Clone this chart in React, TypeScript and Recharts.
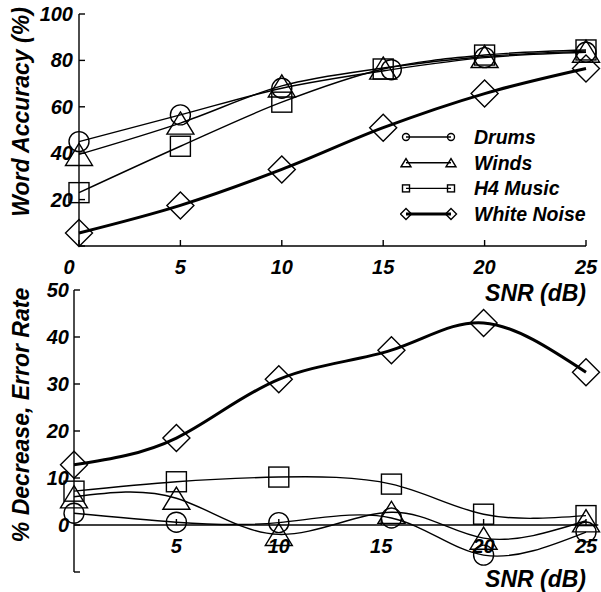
import { LineChart, Line, XAxis, YAxis, ReferenceLine, ReferenceDot, Legend, Label } from 'recharts'

// SNR values (dB); a few markers sit slightly right of the 15 dB tick
const SNR = [0, 5, 10, 15, 20, 25]
const SNR_DRUMS_TOP = [0, 5, 10, 15.4, 20, 25]
const SNR_BOTTOM = [0, 5, 10, 15.5, 20, 25]

// word accuracy (%)
const ACC_DRUMS = [45, 56.5, 68, 76, 81.2, 83.5]
const ACC_WINDS = [39.5, 53, 69, 76.7, 81.7, 84]
const ACC_H4 = [23, 43, 62, 76.3, 82.3, 84.5]
const ACC_WHITE = [5.6, 17.5, 33, 51, 65.7, 76.5]

// % decrease, error rate
const DEC_DRUMS = [2.5, 0.6, 0.5, 1.5, -6.4, -1.5]
const DEC_WINDS = [6, 5.7, -2, 2.7, -2.8, 0.9]
const DEC_H4 = [7.2, 9.2, 10.2, 8.7, 2.3, 2]
const DEC_WHITE = [12.8, 18.5, 31, 37.2, 43, 32.5]

const TOP_X_TICKS = [0, 5, 10, 15, 20, 25]
const TOP_Y_TICKS = [0, 20, 40, 60, 80, 100]
const BOT_X_TICKS = [5, 10, 15, 20, 25]
const BOT_Y_TICKS = [-10, 0, 10, 20, 30, 40, 50]

const FONT = 'Liberation Sans, Arial, sans-serif'
const txt = { fontFamily: FONT, fontWeight: 'bold', fontStyle: 'italic', fill: '#000' } as const

type Kind = 'circle' | 'triangle' | 'square' | 'diamond'

const SERIES: { name: string; kind: Kind; width: number; top: number[]; topX: number[]; bot: number[] }[] = [
  { name: 'Drums', kind: 'circle', width: 1.4, top: ACC_DRUMS, topX: SNR_DRUMS_TOP, bot: DEC_DRUMS },
  { name: 'Winds', kind: 'triangle', width: 1.4, top: ACC_WINDS, topX: SNR, bot: DEC_WINDS },
  { name: 'H4 Music', kind: 'square', width: 1.4, top: ACC_H4, topX: SNR, bot: DEC_H4 },
  { name: 'White Noise', kind: 'diamond', width: 3, top: ACC_WHITE, topX: SNR, bot: DEC_WHITE },
]

const SIZE: Record<Kind, number> = { circle: 20, triangle: 27, square: 20, diamond: 27 }
const SMALL: Record<Kind, number> = { circle: 7, triangle: 10, square: 7, diamond: 11 }

const toPoints = (xs: number[], ys: number[]) => xs.map((x, i) => ({ snr: x, v: ys[i] }))

function Marker({ kind, cx, cy, s }: { kind: Kind; cx: number; cy: number; s: number }) {
  const p = { fill: 'none', stroke: '#000', strokeWidth: 1.4 }
  if (kind === 'circle') return <circle cx={cx} cy={cy} r={s / 2} {...p} />
  if (kind === 'square') return <rect x={cx - s / 2} y={cy - s / 2} width={s} height={s} {...p} />
  if (kind === 'triangle') {
    const h = s * 0.82
    return <polygon points={`${cx},${cy - h / 2} ${cx + s / 2},${cy + h / 2} ${cx - s / 2},${cy + h / 2}`} {...p} />
  }
  return <polygon points={`${cx},${cy - s / 2} ${cx + s / 2},${cy} ${cx},${cy + s / 2} ${cx - s / 2},${cy}`} {...p} />
}

const dotFor = (kind: Kind) => (props: any) => (
  <Marker key={props.index} kind={kind} cx={props.cx} cy={props.cy} s={SIZE[kind]} />
)

const XTick = (props: any) => {
  const { x, y, payload } = props
  const v = payload.value
  return (
    <g>
      <line x1={x} y1={y} x2={x} y2={y - 6} stroke="#000" strokeWidth={1.4} />
      <text x={v === 0 ? x - 10 : x} y={y + 21} textAnchor="middle" dominantBaseline="central" fontSize={20} {...txt}>
        {v}
      </text>
    </g>
  )
}

const makeYTick = (hideBelow: number, gap: number) => (props: any) => {
  const { x, y, payload } = props
  const v = payload.value
  return (
    <g>
      <line x1={x} y1={y} x2={x + 6} y2={y} stroke="#000" strokeWidth={1.4} />
      {v > hideBelow && (
        <text x={x - gap} y={y} textAnchor="end" dominantBaseline="central" fontSize={20} {...txt}>
          {v}
        </text>
      )}
    </g>
  )
}

const yTitle = (text: string, dy: number) => ({ viewBox }: any) => {
  const { x, y, height } = viewBox
  return (
    <text
      transform={`translate(${x + 21},${y + height / 2 + dy}) rotate(-90)`}
      textAnchor="middle"
      dominantBaseline="central"
      fontSize={23}
      {...txt}
    >
      {text}
    </text>
  )
}

const snrTitle = (dy: number) => ({ viewBox }: any) => {
  const { x, y, width } = viewBox
  return (
    <text x={x + width} y={y + dy} textAnchor="end" dominantBaseline="central" fontSize={23} {...txt}>
      SNR (dB)
    </text>
  )
}

const LegendBox = () => (
  <svg width={200} height={104}>
    {SERIES.map((s, i) => {
      const cy = 13 + i * 25.7
      return (
        <g key={s.name}>
          <line x1={6} y1={cy} x2={51} y2={cy} stroke="#000" strokeWidth={s.width} />
          <Marker kind={s.kind} cx={6} cy={cy} s={SMALL[s.kind]} />
          <Marker kind={s.kind} cx={51} cy={cy} s={SMALL[s.kind]} />
          <text x={74} y={cy} dominantBaseline="central" fontSize={19.5} {...txt}>
            {s.name}
          </text>
        </g>
      )
    })}
  </svg>
)

const axisLine = { stroke: '#000', strokeWidth: 1.4 }

export default function App() {
  return (
    <div style={{ position: 'absolute', left: 0, top: 0, width: 601, height: 592, background: '#fff' }}>
      <div style={{ position: 'absolute', left: 0, top: 0 }}>
        <LineChart width={601} height={312} margin={{ top: 14, right: 15, bottom: 0, left: 0 }}>
          <XAxis
            type="number"
            dataKey="snr"
            domain={[0, 25]}
            ticks={TOP_X_TICKS}
            height={66}
            axisLine={axisLine}
            tickLine={false}
            tickSize={0}
            tickMargin={0}
            tick={XTick}
          >
            <Label content={snrTitle(47)} />
          </XAxis>
          <YAxis
            type="number"
            domain={[0, 100]}
            ticks={TOP_Y_TICKS}
            width={79}
            axisLine={axisLine}
            tickLine={false}
            tickSize={0}
            tickMargin={0}
            tick={makeYTick(0, 6)}
          >
            <Label content={yTitle('Word Accuracy (%)', -18)} />
          </YAxis>
          <Legend
            layout="vertical"
            align="center"
            verticalAlign="middle"
            wrapperStyle={{ position: 'absolute', left: 400, top: 124, width: 200, height: 104 }}
            content={LegendBox}
          />
          {SERIES.map((s) => (
            <Line
              key={s.name}
              name={s.name}
              data={toPoints(s.topX, s.top)}
              dataKey="v"
              type="monotone"
              stroke="#000"
              strokeWidth={s.width}
              dot={dotFor(s.kind)}
              activeDot={false}
              isAnimationActive={false}
            />
          ))}
        </LineChart>
      </div>
      <div style={{ position: 'absolute', left: 0, top: 270 }}>
        <LineChart width={601} height={322} margin={{ top: 20, right: 15, bottom: 0, left: 0 }}>
          <XAxis
            type="number"
            dataKey="snr"
            domain={[0, 25]}
            height={20}
            axisLine={false}
            tickLine={false}
            tick={false}
          >
            <Label content={snrTitle(7)} />
          </XAxis>
          <YAxis
            type="number"
            domain={[-10, 50]}
            ticks={BOT_Y_TICKS}
            width={74}
            axisLine={axisLine}
            tickLine={false}
            tickSize={0}
            tickMargin={0}
            tick={makeYTick(-10, 5)}
          >
            <Label content={yTitle('% Decrease, Error Rate', -16)} />
          </YAxis>
          <ReferenceLine
            segment={[{ x: 0, y: 0 }, { x: 25.6, y: 0 }]}
            stroke="#000"
            strokeWidth={1.4}
            ifOverflow="visible"
          />
          {BOT_X_TICKS.map((t) => (
            <ReferenceDot
              key={t}
              x={t}
              y={0}
              r={1}
              ifOverflow="visible"
              shape={(p: any) => <XTick x={p.cx} y={p.cy} payload={{ value: t }} />}
            />
          ))}
          {SERIES.map((s) => (
            <Line
              key={s.name}
              name={s.name}
              data={toPoints(SNR_BOTTOM, s.bot)}
              dataKey="v"
              type="natural"
              stroke="#000"
              strokeWidth={s.width}
              dot={dotFor(s.kind)}
              activeDot={false}
              isAnimationActive={false}
            />
          ))}
        </LineChart>
      </div>
    </div>
  )
}
